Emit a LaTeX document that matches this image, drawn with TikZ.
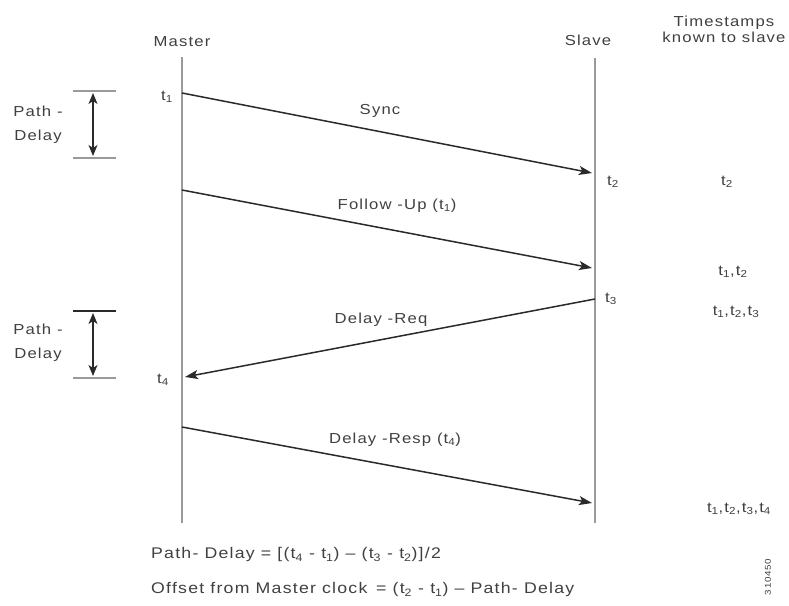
\documentclass[tikz,border=0pt]{standalone}
\usepackage{fontspec}
\setmainfont{Liberation Sans}[FakeStretch=1.15,LetterSpace=8]
\usetikzlibrary{arrows.meta}
\newcommand\tsub[1]{\textsubscript{#1}}
\definecolor{txt}{HTML}{404040}
\definecolor{lifeline}{HTML}{9A9A9A}
\definecolor{msg}{HTML}{2A2A2A}
\begin{document}
\begin{tikzpicture}[x=1pt,y=-1pt,
  lbl/.style={font=\fontsize{14.5}{24}\selectfont,text=txt,inner sep=1pt},
  formula/.style={lbl,anchor=west,font=\fontsize{15.4}{18}\selectfont},
  life/.style={draw=lifeline,line width=2.4pt},
  msgarrow/.style={draw=msg,line width=1.5pt,-{Stealth[length=13pt,width=9pt,inset=3pt]}},
  tick/.style={draw=lifeline,line width=1.8pt},
  span/.style={draw=msg,line width=1.5pt,{Stealth[length=11pt,width=9pt,inset=3pt]}-{Stealth[length=11pt,width=9pt,inset=3pt]}}]
\useasboundingbox (0,0) rectangle (789,605);
% headers
\node[lbl] (master) at (182,42) {Master};
\node[lbl] (slave) at (588,40) {Slave};
\node[lbl,align=center,font=\fontsize{14.5}{16}\selectfont] (known) at (724,29) {Timestamps\\known to slave};
% lifelines
\coordinate (mtop) at (182,57);
\coordinate (mbot) at (182,523);
\coordinate (stop) at (595,58);
\coordinate (sbot) at (595,523);
\draw[life] (mtop) -- (mbot);
\draw[life] (stop) -- (sbot);
% message endpoints
\coordinate (m1) at (182,93);
\coordinate (s2) at (592,173);
\coordinate (m2) at (182,190);
\coordinate (s3) at (592,268);
\coordinate (s4) at (595,299);
\coordinate (m4) at (185,377);
\coordinate (m5) at (182,427);
\coordinate (s5) at (592,503);
\draw[msgarrow] (m1) -- (s2);
\draw[msgarrow] (m2) -- (s3);
\draw[msgarrow] (s4) -- (m4);
\draw[msgarrow] (m5) -- (s5);
% message labels
\node[lbl] (sync) at (380,111) {Sync};
\node[lbl] (fup) at (397,206) {Follow -Up (t\tsub{1})};
\node[lbl] (dreq) at (381,320) {Delay -Req};
\node[lbl] (dresp) at (395,440) {Delay -Resp (t\tsub{4})};
% time labels
\node[lbl] (t1) at (167,97) {t\tsub{1}};
\node[lbl] (t2) at (613,182) {t\tsub{2}};
\node[lbl] (t3) at (611,299) {t\tsub{3}};
\node[lbl] (t4) at (163,380) {t\tsub{4}};
% known timestamps
\node[lbl] (k1) at (727,182) {t\tsub{2}};
\node[lbl] (k2) at (733,272) {t\tsub{1},t\tsub{2}};
\node[lbl] (k3) at (736,312) {t\tsub{1},t\tsub{2},t\tsub{3}};
\node[lbl] (k4) at (739,509) {t\tsub{1},t\tsub{2},t\tsub{3},t\tsub{4}};
% path delay brackets
\coordinate (a1l) at (73,91);  \coordinate (a1r) at (116,91);
\coordinate (b1l) at (73,158); \coordinate (b1r) at (116,158);
\draw[tick] (a1l) -- (a1r);
\draw[tick] (b1l) -- (b1r);
\coordinate (p1a) at (93,93); \coordinate (p1b) at (93,156);
\draw[span] (p1a) -- (p1b);
\node[lbl,align=center] (pd1) at (38,125) {Path -\\Delay};
\coordinate (a2l) at (73,311);  \coordinate (a2r) at (116,311);
\coordinate (b2l) at (73,378); \coordinate (b2r) at (116,378);
\draw[tick,draw=msg] (a2l) -- (a2r);
\draw[tick] (b2l) -- (b2r);
\coordinate (p2a) at (93,313); \coordinate (p2b) at (93,376);
\draw[span] (p2a) -- (p2b);
\node[lbl,align=center] (pd2) at (38,343) {Path -\\Delay};
% formulas
\node[formula] (f1) at (150,555) {Path- Delay = [(t\tsub{4} - t\tsub{1}) -- (t\tsub{3} - t\tsub{2})]/2};
\node[formula] (f2) at (150,590) {Offset from Master clock \,= (t\tsub{2} - t\tsub{1}) -- Path- Delay};
\node[lbl,rotate=90,font=\fontsize{8.5}{10}\selectfont] (id) at (768,577) {310450};
\end{tikzpicture}
\end{document}
